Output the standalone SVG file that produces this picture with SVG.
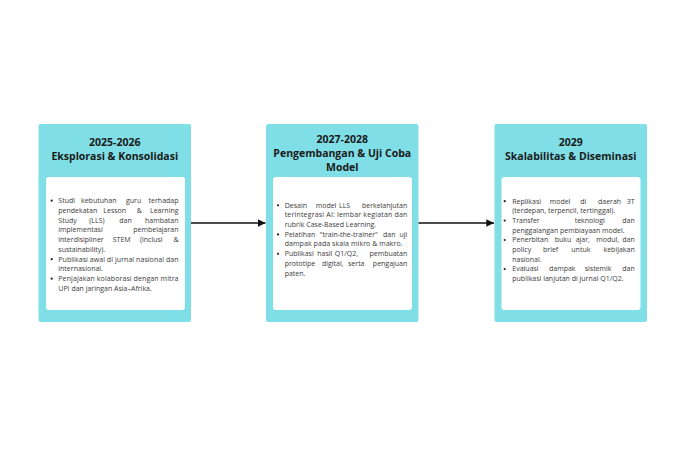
<svg xmlns="http://www.w3.org/2000/svg" width="685" height="449" viewBox="0 0 685 449">
<style>
.card{fill:#80dfe6}
.inner{fill:#ffffff}
.t{font-family:"Open Sans","Liberation Sans",sans-serif;font-weight:700;font-size:10.5px;fill:#1a1a1a;text-anchor:middle}
.b{font-family:"Open Sans","Liberation Sans",sans-serif;font-size:7px;fill:#3a3a3a}
.e{text-anchor:end}
.dot{fill:#222}
.conn{stroke:#111;stroke-width:1.4;fill:none}
</style>
<defs>
<marker id="ah" viewBox="0 0 10 10" refX="10" refY="5" markerWidth="5.5" markerHeight="5.5" orient="auto" markerUnits="strokeWidth">
<path d="M0,0 L10,5 L0,10 z" fill="#111"/>
</marker>
</defs>
<rect width="685" height="449" fill="#ffffff"/>

<g id="node1">
<rect class="card" x="38.5" y="124" width="152.5" height="198" rx="2"/>
<rect class="inner" x="46" y="177" width="139" height="133" rx="3"/>
<text class="t" x="114.75" y="146">2025-2026</text>
<text class="t" x="114.75" y="160">Eksplorasi &amp; Konsolidasi</text>
<circle class="dot" cx="51.7" cy="200.7" r="1.1"/>
<circle class="dot" cx="51.7" cy="259.2" r="1.1"/>
<circle class="dot" cx="51.7" cy="278.7" r="1.1"/>
<text class="b" x="58.3" y="203">Studi</text>
<text class="b" x="81" y="203">kebutuhan</text>
<text class="b" x="126" y="203">guru</text>
<text class="b e" x="178.5" y="203">terhadap</text>
<text class="b" x="58.3" y="212.7">pendekatan</text>
<text class="b" x="103.3" y="212.7">Lesson</text>
<text class="b" x="136.7" y="212.7">&amp;</text>
<text class="b e" x="178.5" y="212.7">Learning</text>
<text class="b" x="58.3" y="222.5">Study</text>
<text class="b" x="89.3" y="222.5">(LLS)</text>
<text class="b" x="119.3" y="222.5">dan</text>
<text class="b e" x="178.5" y="222.5">hambatan</text>
<text class="b" x="58.3" y="232.2">implementasi</text>
<text class="b e" x="178.5" y="232.2">pembelajaran</text>
<text class="b" x="58.3" y="242">interdisipliner</text>
<text class="b" x="112.7" y="242">STEM</text>
<text class="b" x="140" y="242">(inclusi</text>
<text class="b e" x="178.5" y="242">&amp;</text>
<text class="b" x="58.3" y="251.7">sustainability).</text>
<text class="b" x="58.3" y="261.5" textLength="120.2" lengthAdjust="spacing">Publikasi awal di jurnal nasional dan</text>
<text class="b" x="58.3" y="271.2">internasional.</text>
<text class="b" x="58.3" y="281" textLength="120.2" lengthAdjust="spacing">Penjajakan kolaborasi dengan mitra</text>
<text class="b" x="58.3" y="290.7">UPI dan jaringan Asia–Afrika.</text>
</g>

<g id="node2">
<rect class="card" x="266" y="124" width="152.5" height="198" rx="2"/>
<rect class="inner" x="273" y="177" width="139" height="133" rx="3"/>
<text class="t" x="342.25" y="143">2027-2028</text>
<text class="t" x="342.25" y="157">Pengembangan &amp; Uji Coba</text>
<text class="t" x="342.25" y="171">Model</text>
<circle class="dot" cx="278" cy="205.3" r="1.1"/>
<circle class="dot" cx="278" cy="234.4" r="1.1"/>
<circle class="dot" cx="278" cy="253.8" r="1.1"/>
<text class="b" x="284.7" y="207.6">Desain</text>
<text class="b" x="315.7" y="207.6">model</text>
<text class="b" x="339" y="207.6">LLS</text>
<text class="b e" x="407.3" y="207.6">berkelanjutan</text>
<text class="b" x="284.7" y="217.3" textLength="122.6" lengthAdjust="spacing">terintegrasi AI: lembar kegiatan dan</text>
<text class="b" x="284.7" y="227">rubrik Case-Based Learning.</text>
<text class="b" x="284.7" y="236.7">Pelatihan</text>
<text class="b" x="319.7" y="236.7">"train-the-trainer"</text>
<text class="b" x="383" y="236.7">dan</text>
<text class="b e" x="407.3" y="236.7">uji</text>
<text class="b" x="284.7" y="246.4" textLength="118" lengthAdjust="spacing">dampak pada skala mikro &amp; makro.</text>
<text class="b" x="284.7" y="256.1">Publikasi</text>
<text class="b" x="317.3" y="256.1">hasil</text>
<text class="b" x="334.7" y="256.1">Q1/Q2,</text>
<text class="b e" x="407.3" y="256.1">pembuatan</text>
<text class="b" x="284.7" y="265.8">prototipe</text>
<text class="b" x="322" y="265.8">digital,</text>
<text class="b" x="348" y="265.8">serta</text>
<text class="b e" x="407.3" y="265.8">pengajuan</text>
<text class="b" x="284.7" y="275.5">paten.</text>
</g>

<g id="node3">
<rect class="card" x="494.5" y="124" width="152.5" height="198" rx="2"/>
<rect class="inner" x="501.5" y="177" width="139" height="133" rx="3"/>
<text class="t" x="570.75" y="146">2029</text>
<text class="t" x="570.75" y="160">Skalabilitas &amp; Diseminasi</text>
<circle class="dot" cx="504.7" cy="201.2" r="1.1"/>
<circle class="dot" cx="504.7" cy="220.6" r="1.1"/>
<circle class="dot" cx="504.7" cy="240" r="1.1"/>
<circle class="dot" cx="504.7" cy="269.1" r="1.1"/>
<text class="b" x="512.3" y="203.5">Replikasi</text>
<text class="b" x="549.7" y="203.5">model</text>
<text class="b" x="580.3" y="203.5">di</text>
<text class="b" x="598" y="203.5">daerah</text>
<text class="b e" x="634.7" y="203.5">3T</text>
<text class="b" x="512.3" y="213.2">(terdepan, terpencil, tertinggal).</text>
<text class="b" x="512.3" y="222.9">Transfer</text>
<text class="b" x="574.7" y="222.9">teknologi</text>
<text class="b e" x="634.7" y="222.9">dan</text>
<text class="b" x="512.3" y="232.6">penggalangan pembiayaan model.</text>
<text class="b" x="512.3" y="242.3">Penerbitan</text>
<text class="b" x="554.7" y="242.3">buku</text>
<text class="b" x="575.7" y="242.3">ajar,</text>
<text class="b" x="596.3" y="242.3">modul,</text>
<text class="b e" x="634.7" y="242.3">dan</text>
<text class="b" x="512.3" y="252">policy</text>
<text class="b" x="543" y="252">brief</text>
<text class="b" x="571.3" y="252">untuk</text>
<text class="b e" x="634.7" y="252">kebijakan</text>
<text class="b" x="512.3" y="261.7">nasional.</text>
<text class="b" x="512.3" y="271.4">Evaluasi</text>
<text class="b" x="549" y="271.4">dampak</text>
<text class="b" x="584.7" y="271.4">sistemik</text>
<text class="b e" x="634.7" y="271.4">dan</text>
<text class="b" x="512.3" y="281.1">publikasi lanjutan di jurnal Q1/Q2.</text>
</g>

<g id="connectors">
<line class="conn" x1="191" y1="223" x2="265.5" y2="223" marker-end="url(#ah)"/>
<line class="conn" x1="418.5" y1="223" x2="494" y2="223" marker-end="url(#ah)"/>
</g>
</svg>
